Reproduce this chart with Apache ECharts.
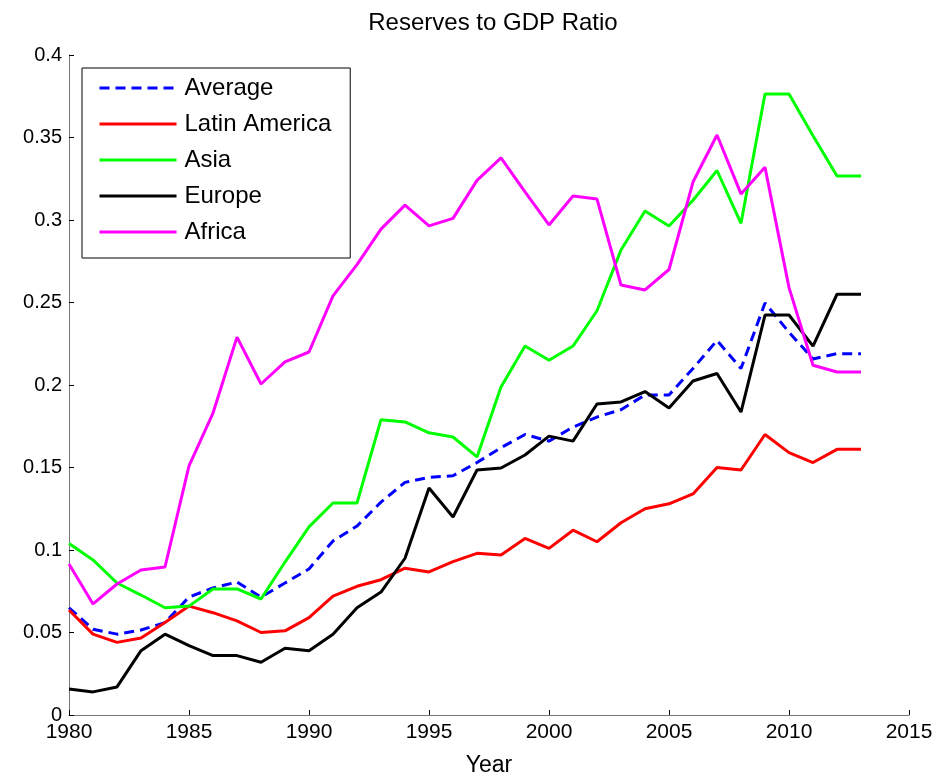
<!DOCTYPE html>
<html>
<head>
<meta charset="utf-8">
<script src="https://cdn.jsdelivr.net/npm/echarts@6/dist/echarts.min.js"></script>
<style>
  html, body { margin: 0; padding: 0; background: #fff; }
  #chart { width: 942px; height: 780px; }
</style>
</head>
<body>
<div id="chart"></div>
<script>
const years = [1980, 1981, 1982, 1983, 1984, 1985, 1986, 1987, 1988, 1989,
  1990, 1991, 1992, 1993, 1994, 1995, 1996, 1997, 1998, 1999,
  2000, 2001, 2002, 2003, 2004, 2005, 2006, 2007, 2008, 2009,
  2010, 2011, 2012, 2013];

const average = [0.065, 0.052, 0.049, 0.0515, 0.056, 0.0715, 0.077, 0.0806, 0.0715, 0.080,
  0.0885, 0.1055, 0.1145, 0.129, 0.141, 0.144, 0.145, 0.153, 0.162, 0.170,
  0.166, 0.1745, 0.1806, 0.185, 0.194, 0.194, 0.210, 0.227, 0.210, 0.2497,
  0.232, 0.2158, 0.219, 0.219];

const latinAmerica = [0.0636, 0.049, 0.044, 0.0467, 0.056, 0.066, 0.062, 0.057, 0.050, 0.051,
  0.059, 0.072, 0.078, 0.082, 0.089, 0.0867, 0.093, 0.098, 0.097, 0.107,
  0.101, 0.112, 0.105, 0.1165, 0.125, 0.128, 0.134, 0.150, 0.1485, 0.170,
  0.159, 0.153, 0.161, 0.161];

const asia = [0.104, 0.094, 0.080, 0.0727, 0.065, 0.066, 0.0764, 0.0764, 0.0703, 0.0927,
  0.114, 0.1285, 0.1285, 0.179, 0.1776, 0.171, 0.1685, 0.1564, 0.1988, 0.2236,
  0.215, 0.2236, 0.245, 0.2818, 0.3055, 0.2964, 0.312, 0.330, 0.298, 0.3764,
  0.3764, 0.351, 0.3267, 0.3267];

const europe = [0.0157, 0.014, 0.017, 0.039, 0.049, 0.042, 0.036, 0.036, 0.032, 0.0405,
  0.039, 0.049, 0.065, 0.0745, 0.095, 0.1376, 0.120, 0.1485, 0.1497, 0.1576,
  0.169, 0.166, 0.1885, 0.1897, 0.196, 0.186, 0.2024, 0.207, 0.1836, 0.2424,
  0.2424, 0.2236, 0.255, 0.255];

const africa = [0.0915, 0.0673, 0.0794, 0.0879, 0.0897, 0.151, 0.183, 0.229, 0.2006, 0.214,
  0.220, 0.254, 0.273, 0.2945, 0.309, 0.2964, 0.301, 0.324, 0.3376, 0.317,
  0.297, 0.3145, 0.3127, 0.2606, 0.2576, 0.270, 0.323, 0.3515, 0.3158, 0.332,
  0.259, 0.212, 0.2079, 0.2079];

const font = 'Liberation Sans, Arial, Helvetica, sans-serif';

function pairs(values) {
  return years.map((y, i) => [y, values[i]]);
}

function lineSeries(name, values, color, type) {
  return {
    name: name,
    type: 'line',
    symbol: 'none',
    data: pairs(values),
    lineStyle: { color: color, width: 3, type: type || 'solid' },
    itemStyle: { color: color },
    emphasis: { disabled: true }
  };
}

const chart = echarts.init(document.getElementById('chart'));

const option = {
  backgroundColor: '#fff',
  animation: false,
  title: {
    text: 'Reserves to GDP Ratio',
    left: 488,
    textAlign: 'center',
    top: 6,
    textStyle: { fontFamily: font, fontSize: 24, fontWeight: 'normal', color: '#000' }
  },
  legend: {
    orient: 'vertical',
    left: 82,
    top: 68,
    padding: [8, 19, 14, 16],
    itemWidth: 77,
    itemHeight: 14,
    itemGap: 12,
    borderColor: '#000',
    borderWidth: 1,
    backgroundColor: '#fff',
    itemStyle: { opacity: 0 },
    lineStyle: { width: 3 },
    textStyle: { fontFamily: font, fontSize: 24, color: '#000', padding: [0, 0, 0, 3] },
    data: ['Average', 'Latin America', 'Asia', 'Europe', 'Africa']
  },
  grid: {
    left: 69,
    right: 33,
    top: 55,
    bottom: 65,
    containLabel: false,
    outerBoundsMode: 'none'
  },
  xAxis: {
    type: 'value',
    min: 1980,
    max: 2015,
    interval: 5,
    name: 'Year',
    nameLocation: 'middle',
    nameGap: 39,
    nameTextStyle: { fontFamily: font, fontSize: 23, color: '#000' },
    axisLine: { show: true, lineStyle: { color: '#777', width: 1 } },
    axisTick: { show: true, inside: true, length: 5, lineStyle: { color: '#000' } },
    axisLabel: { fontFamily: font, fontSize: 21, color: '#000', margin: 7, formatter: v => String(v) },
    splitLine: { show: false }
  },
  yAxis: {
    type: 'value',
    min: 0,
    max: 0.4,
    interval: 0.05,
    axisLine: { show: true, lineStyle: { color: '#777', width: 1 } },
    axisTick: { show: true, inside: true, length: 5, lineStyle: { color: '#000' } },
    axisLabel: { fontFamily: font, fontSize: 20, color: '#000', margin: 7 },
    splitLine: { show: false }
  },
  series: [
    lineSeries('Average', average, '#0000ff', [10, 6]),
    lineSeries('Latin America', latinAmerica, '#ff0000'),
    lineSeries('Asia', asia, '#00ff00'),
    lineSeries('Europe', europe, '#000000'),
    lineSeries('Africa', africa, '#ff00ff')
  ]
};

chart.setOption(option);
</script>
</body>
</html>
